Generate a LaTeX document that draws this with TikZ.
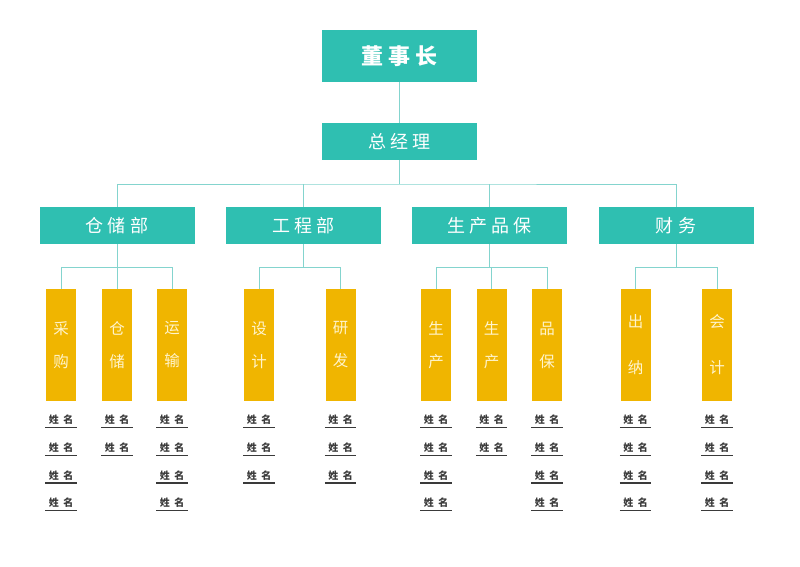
\documentclass[tikz,border=0pt]{standalone}
\usepackage{fontspec}
\setmainfont{Noto Sans CJK SC}
\usepackage{xcolor}
\usepackage{tikz}
\usetikzlibrary{positioning,calc}
\definecolor{headteal}{HTML}{2FBFB1}
\definecolor{linkteal}{HTML}{84D4CE}
\definecolor{unitgold}{HTML}{F0B500}
\definecolor{unittext}{HTML}{FFF4CC}
\definecolor{namegray}{HTML}{3A3A3A}

\begin{document}
\begin{tikzpicture}[x=1pt, y=-1pt,
    chief/.style={rectangle, fill=headteal, text=white, minimum width=155pt, minimum height=52pt, inner sep=0pt, font=\fontsize{22}{24}\selectfont\bfseries},
    dept/.style={rectangle, fill=headteal, text=white, minimum width=155pt, minimum height=37pt, inner sep=0pt, font=\fontsize{18}{20}\selectfont},
    unit/.style={rectangle, fill=unitgold, text=unittext, minimum width=30pt, minimum height=112pt, inner sep=0pt, align=center, font=\fontsize{15.5}{33}\selectfont},
    wideunit/.style={unit, font=\fontsize{15.5}{46}\selectfont},
    namecell/.style={minimum width=31pt, minimum height=15pt, inner sep=0pt, text=namegray, font=\fontsize{10}{10}\selectfont\bfseries},
    uline/.style={draw=namegray, line width=1.3pt},
    link/.style={draw=linkteal, line width=1pt}
]
    \useasboundingbox (0,0) rectangle (800,566);

    % Top of the chart
    \node[chief] (ceo) at (399.5,56) {董 事 长};
    \node[dept] (gm) at (399.5,141.5) {总 经 理};
    \draw[link] (ceo) -- (gm);

    % Departments
    \node[dept] (d1) at (117,225.5) {仓 储 部};
    \node[dept] (d2) at (303.5,225.5) {工 程 部};
    \node[dept] (d3) at (489.5,225.5) {生 产 品 保};
    \node[dept] (d4) at (676,225.5) {财 务};

    \coordinate (bus) at (399.5,184);
    \draw[link] (gm) -- (bus);
    \draw[link] (d1.north) |- (bus) -| (d4.north);
    \draw[link] (d2.north) -- (d2.north |- bus);
    \draw[link] (d3.north) -- (d3.north |- bus);

    % Units below each department
    \node[unit] (u11) at (61,345) {采\\购};
    \node[unit] (u12) at (117,345) {仓\\储};
    \node[unit] (u13) at (172,345) {运\\输};
    \node[unit] (u21) at (259,345) {设\\计};
    \node[unit] (u22) at (340.5,345) {研\\发};
    \node[unit] (u31) at (436,345) {生\\产};
    \node[unit] (u32) at (491.5,345) {生\\产};
    \node[unit] (u33) at (547,345) {品\\保};
    \node[wideunit] (u41) at (635.5,345) {出\\纳};
    \node[wideunit] (u42) at (717,345) {会\\计};

    % Department to unit links
    \coordinate (j1) at ([yshift=-23pt]d1.south);
    \coordinate (j2) at ([yshift=-23pt]d2.south);
    \coordinate (j3) at ([yshift=-23pt]d3.south);
    \coordinate (j4) at ([yshift=-23pt]d4.south);
    \draw[link] (d1.south) -- (j1);
    \draw[link] (u11.north) |- (j1) -| (u13.north);
    \draw[link] (u12.north) -- (u12.north |- j1);
    \draw[link] (d2.south) -- (j2);
    \draw[link] (u21.north) |- (j2) -| (u22.north);
    \draw[link] (d3.south) -- (j3);
    \draw[link] (u31.north) |- (j3) -| (u33.north);
    \draw[link] (u32.north) -- (u32.north |- j3);
    \draw[link] (d4.south) -- (j4);
    \draw[link] (u41.north) |- (j4) -| (u42.north);

    % Name slots
    \foreach \i in {1,...,4} {\node[namecell] (n11\i) at (61,{420+27.7*(\i-1)}) {姓\hspace{4.5pt}名}; \draw[uline] (n11\i.south west) -- (n11\i.south east);}
    \foreach \i in {1,...,2} {\node[namecell] (n12\i) at (117,{420+27.7*(\i-1)}) {姓\hspace{4.5pt}名}; \draw[uline] (n12\i.south west) -- (n12\i.south east);}
    \foreach \i in {1,...,4} {\node[namecell] (n13\i) at (172,{420+27.7*(\i-1)}) {姓\hspace{4.5pt}名}; \draw[uline] (n13\i.south west) -- (n13\i.south east);}
    \foreach \i in {1,...,3} {\node[namecell] (n21\i) at (259,{420+27.7*(\i-1)}) {姓\hspace{4.5pt}名}; \draw[uline] (n21\i.south west) -- (n21\i.south east);}
    \foreach \i in {1,...,3} {\node[namecell] (n22\i) at (340.5,{420+27.7*(\i-1)}) {姓\hspace{4.5pt}名}; \draw[uline] (n22\i.south west) -- (n22\i.south east);}
    \foreach \i in {1,...,4} {\node[namecell] (n31\i) at (436,{420+27.7*(\i-1)}) {姓\hspace{4.5pt}名}; \draw[uline] (n31\i.south west) -- (n31\i.south east);}
    \foreach \i in {1,...,2} {\node[namecell] (n32\i) at (491.5,{420+27.7*(\i-1)}) {姓\hspace{4.5pt}名}; \draw[uline] (n32\i.south west) -- (n32\i.south east);}
    \foreach \i in {1,...,4} {\node[namecell] (n33\i) at (547,{420+27.7*(\i-1)}) {姓\hspace{4.5pt}名}; \draw[uline] (n33\i.south west) -- (n33\i.south east);}
    \foreach \i in {1,...,4} {\node[namecell] (n41\i) at (635.5,{420+27.7*(\i-1)}) {姓\hspace{4.5pt}名}; \draw[uline] (n41\i.south west) -- (n41\i.south east);}
    \foreach \i in {1,...,4} {\node[namecell] (n42\i) at (717,{420+27.7*(\i-1)}) {姓\hspace{4.5pt}名}; \draw[uline] (n42\i.south west) -- (n42\i.south east);}
\end{tikzpicture}
\end{document}
